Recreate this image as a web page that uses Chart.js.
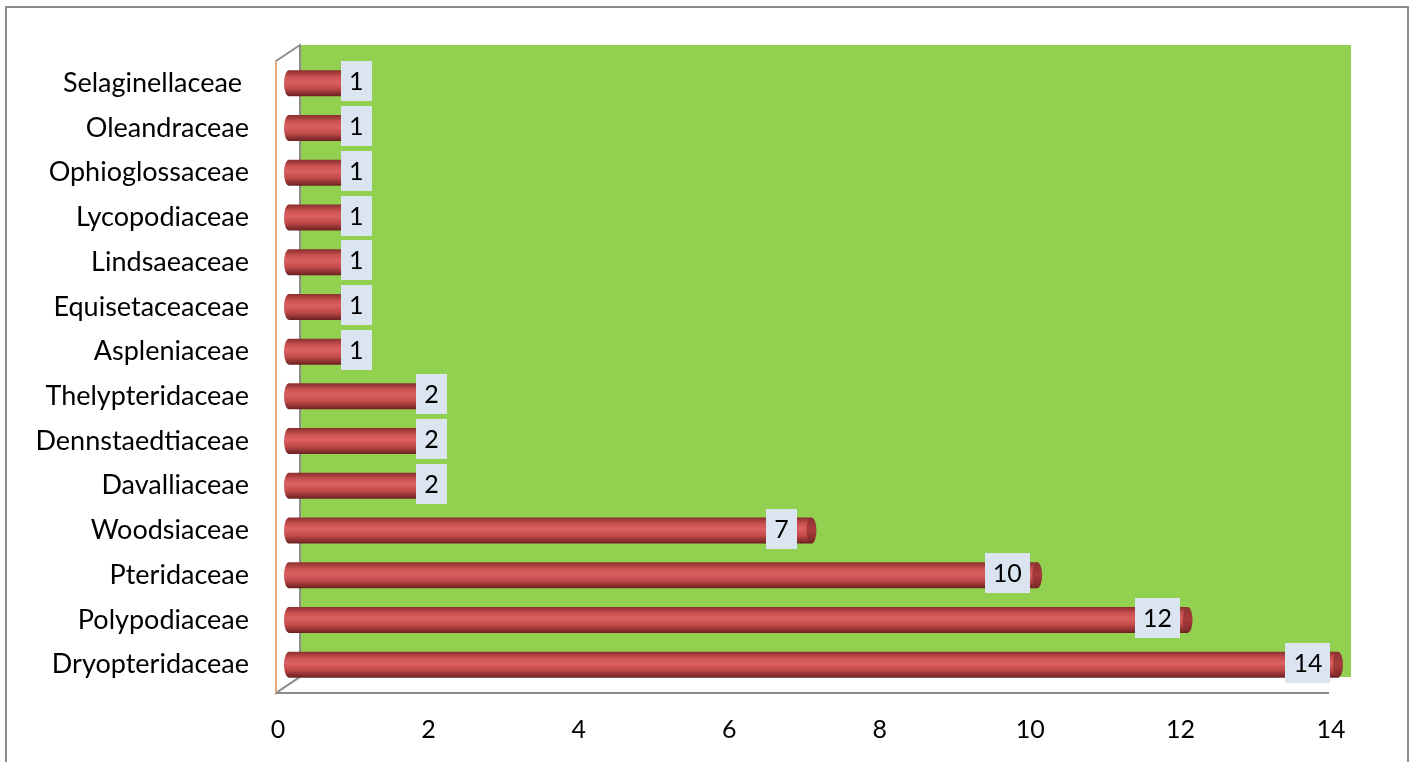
<!DOCTYPE html>
<html>
<head>
<meta charset="utf-8">
<script src="https://cdn.jsdelivr.net/npm/chart.js@4.4.1/dist/chart.umd.min.js"></script>
<style>
html,body{margin:0;padding:0;background:#fff;}
#wrap{width:1411px;height:762px;position:relative;}
</style>
</head>
<body>
<div id="wrap"><canvas id="c" width="1411" height="762"></canvas></div>
<script>
const categories = ["Selaginellaceae ", "Oleandraceae", "Ophioglossaceae", "Lycopodiaceae", "Lindsaeaceae", "Equisetaceaceae", "Aspleniaceae", "Thelypteridaceae", "Dennstaedtiaceae", "Davalliaceae", "Woodsiaceae", "Pteridaceae", "Polypodiaceae", "Dryopteridaceae"];
const speciesCount = [1, 1, 1, 1, 1, 1, 1, 2, 2, 2, 7, 10, 12, 14];
const xTicks = [0, 2, 4, 6, 8, 10, 12, 14];

const FONT = "Lato, 'Open Sans', sans-serif";

const frame = {
  id: 'frame',
  beforeDraw(chart) {
    const ctx = chart.ctx;
    ctx.save();
    ctx.fillStyle = '#fff';
    ctx.fillRect(0, 0, chart.width, chart.height);
    ctx.strokeStyle = '#8c8c8c';
    ctx.lineWidth = 2;
    ctx.strokeRect(6, 7, 1402, 760);
    ctx.restore();
  },
  beforeDatasetsDraw(chart) {
    const ctx = chart.ctx;
    const a = chart.chartArea;
    const fl = a.left - 9, fb = a.bottom + 6, ft = a.top;
    const dx = 24, dy = -16;
    const fr = chart.scales.x.getPixelForValue(14) - 9;
    ctx.save();
    // back wall
    ctx.fillStyle = '#92d050';
    ctx.fillRect(fl + dx, ft + dy, fr + 22 - (fl + dx), (fb + dy) - (ft + dy));
    // left wall
    ctx.beginPath();
    ctx.moveTo(fl, ft); ctx.lineTo(fl + dx, ft + dy); ctx.lineTo(fl + dx, fb + dy); ctx.lineTo(fl, fb); ctx.closePath();
    ctx.fillStyle = '#fff'; ctx.fill();
    ctx.strokeStyle = '#8c8c8c'; ctx.lineWidth = 2; ctx.stroke();
    // floor
    ctx.beginPath();
    ctx.moveTo(fl, fb); ctx.lineTo(fl + dx, fb + dy); ctx.lineTo(fr + 22, fb + dy); ctx.lineTo(fr, fb); ctx.closePath();
    ctx.fillStyle = '#fff'; ctx.fill();
    ctx.beginPath();
    ctx.moveTo(fl, fb); ctx.lineTo(fl + dx, fb + dy);
    ctx.moveTo(fl, fb); ctx.lineTo(fr, fb);
    ctx.strokeStyle = '#8c8c8c'; ctx.lineWidth = 2; ctx.stroke();
    // front axis edge
    ctx.beginPath();
    ctx.moveTo(fl, ft); ctx.lineTo(fl, fb);
    ctx.strokeStyle = '#e2a878'; ctx.lineWidth = 2; ctx.stroke();
    ctx.restore();
  },
  afterDatasetsDraw(chart) {
    const ctx = chart.ctx;
    const meta = chart.getDatasetMeta(0);
    ctx.save();
    meta.data.forEach((bar, i) => {
      const h = bar.height, top = bar.y - h / 2, x0 = bar.base - 1, x1 = bar.x;
      const rx = 5;
      const g = ctx.createLinearGradient(0, top, 0, top + h);
      g.addColorStop(0, '#8a2e2e');
      g.addColorStop(0.25, '#cc5252');
      g.addColorStop(0.45, '#dc6060');
      g.addColorStop(0.7, '#c24a4a');
      g.addColorStop(1, '#6a2020');
      ctx.fillStyle = g;
      ctx.beginPath();
      ctx.ellipse(x0 + rx, bar.y, rx, h / 2, 0, Math.PI / 2, Math.PI * 1.5);
      ctx.lineTo(x1, top);
      ctx.lineTo(x1, top + h);
      ctx.closePath();
      ctx.fill();
      const g2 = ctx.createLinearGradient(0, top, 0, top + h);
      g2.addColorStop(0, '#8e3030');
      g2.addColorStop(0.5, '#a83c3c');
      g2.addColorStop(1, '#7a2626');
      ctx.fillStyle = g2;
      ctx.beginPath();
      ctx.ellipse(x1, bar.y, rx, h / 2, 0, 0, Math.PI * 2);
      ctx.fill();
    });
    // data labels
    ctx.font = "25px " + FONT;
    ctx.textAlign = 'center';
    ctx.textBaseline = 'middle';
    meta.data.forEach((bar, i) => {
      const v = speciesCount[i];
      const txt = String(v);
      const w = ctx.measureText(txt).width + 16;
      const hh = 40;
      const cx = bar.x - (v < 3 ? 4 : 30);
      const cy = bar.y - 2;
      ctx.fillStyle = '#dbe5f1';
      ctx.fillRect(Math.round(cx - w / 2), Math.round(cy - hh / 2), Math.round(w), hh);
      ctx.fillStyle = '#000';
      ctx.fillText(txt, cx, cy + 1);
    });
    ctx.restore();
  }
};

new Chart(document.getElementById('c'), {
  type: 'bar',
  data: {
    labels: categories,
    datasets: [{
      data: speciesCount,
      backgroundColor: 'rgba(0,0,0,0)',
      borderWidth: 0,
      barThickness: 26
    }]
  },
  options: {
    indexAxis: 'y',
    responsive: false,
    animation: false,
    devicePixelRatio: 1,
    layout: { padding: { left: 0, right: 73, top: 61, bottom: 0 } },
    plugins: { legend: { display: false }, tooltip: { enabled: false } },
    scales: {
      x: {
        min: 0, max: 14,
        afterBuildTicks(scale) { scale.ticks = xTicks.map(v => ({ value: v })); },
        afterFit(scale) { scale.height = 75; },
        grid: { display: false, drawTicks: false },
        border: { display: false },
        ticks: { color: '#000', font: { family: FONT, size: 25 }, padding: 28, labelOffset: -7, maxRotation: 0 }
      },
      y: {
        afterFit(scale) { scale.width = 285; },
        grid: { display: false, drawTicks: false },
        border: { display: false },
        ticks: { color: '#000', font: { family: FONT, size: 27 }, padding: 36 }
      }
    }
  },
  plugins: [frame]
});
</script>
</body>
</html>
